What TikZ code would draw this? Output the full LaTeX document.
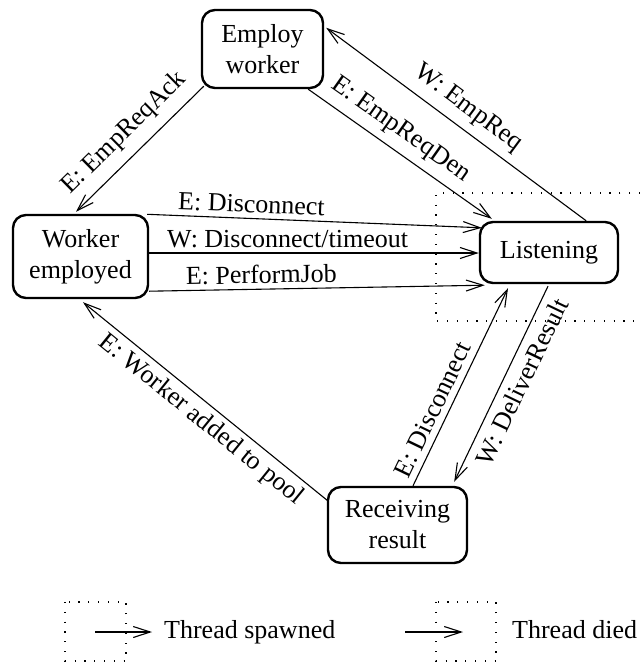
\documentclass[tikz,border=0pt]{standalone}
\usepackage{fontspec}
\setmainfont{Liberation Serif}
\usetikzlibrary{arrows.meta,calc}
\begin{document}
\begin{tikzpicture}[x=1pt,y=1pt,
  state/.style={draw, line width=2.4pt, rounded corners=13pt, align=center, inner sep=0pt, font=\fontsize{26}{31}\selectfont},
  trans/.style={line width=1.1pt, -{Straight Barb[length=17pt,width=11pt,line width=1.1pt]}},
  lbl/.style={font=\fontsize{26}{31}\selectfont, sloped, inner sep=5pt},
  legtext/.style={font=\fontsize{26}{31}\selectfont, anchor=base west, inner sep=0pt},
  frame/.style={line width=1.2pt, dash pattern=on 1.2pt off 8.6pt}]
\useasboundingbox (0,0) rectangle (640,-662);

% states
\node[state, minimum width=121pt, minimum height=78pt] (ew) at (262.5,-49) {Employ\\worker};
\node[state, minimum width=135pt, minimum height=83pt] (we) at (80.5,-256.5) {Worker\\employed};
\node[state, minimum width=138pt, minimum height=61pt] (li) at (549,-252.5) {Listening};
\node[state, minimum width=139pt, minimum height=76pt] (rr) at (397.5,-525) {Receiving\\result};

% thread frame around Listening
\draw[frame] (640,-193) -- (436,-193) -- (436,-321) -- (640,-321);

% transitions
\draw[trans] ($(ew.south west)+(3,3)$) -- node[lbl, above, pos=0.5, inner sep=10pt] {E: EmpReqAck} ($(we.north)+(-4.5,2)$);
\draw[trans] ($(ew.south east)+(-16,0)$) -- node[lbl, above, pos=0.44, inner sep=8pt] {E: EmpReqDen} ($(li.north west)+(13,2)$);
\draw[trans] ($(li.north east)+(-33,0)$) -- node[lbl, above, pos=0.5, inner sep=8pt] {W: EmpReq} ($(ew.north east)+(2,-19)$);
\draw[trans] ($(we.north east)+(-2,-0.5)$) -- node[lbl, above, pos=0.31] {E: Disconnect} ($(li.north west)+(3,-7)$);
\draw[trans] ($(we.east)+(0,3.5)$) -- node[lbl, above, pos=0.42] {W: Disconnect/timeout} ($(li.west)+(0,-0.5)$);
\draw[trans] ($(we.south east)+(0,8)$) -- node[lbl, above, pos=0.335] {E: PerformJob} ($(li.south west)+(6,-1)$);
\draw[trans] ($(rr.north west)+(1,-15)$) -- node[lbl, below, pos=0.474, inner sep=5pt] {E: Worker added to pool} ($(we.south)+(2.5,-3)$);
\draw[trans] ($(rr.north)+(15.5,0)$) -- node[lbl, above, pos=0.353, inner sep=6pt] {E: Disconnect} ($(li.south)+(-41,-4)$);
\draw[trans] ($(li.south)+(-1,-2)$) -- node[lbl, below, pos=0.449, inner sep=8pt] {W: DeliverResult} ($(rr.north east)+(-14,4)$);

% legend
\draw[frame] (65,-602) rectangle (126,-661);
\coordinate (s1) at (95,-632);
\coordinate (e1) at (152,-632);
\draw[trans] (s1) -- (e1);
\node[legtext] (t1) at (164,-638) {Thread spawned};

\draw[frame] (436,-602) rectangle (496,-661);
\coordinate (s2) at (405,-632);
\coordinate (e2) at (463,-632);
\draw[trans] (s2) -- (e2);
\node[legtext] (t2) at (512,-638) {Thread died};
\end{tikzpicture}
\end{document}
